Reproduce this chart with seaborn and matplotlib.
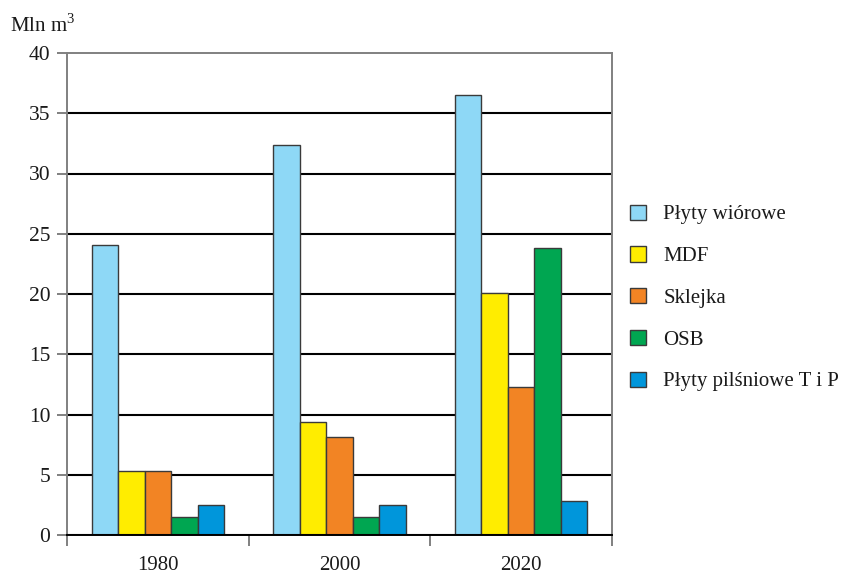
import matplotlib
matplotlib.use("Agg")
import matplotlib.pyplot as plt
import seaborn as sns
import pandas as pd
from matplotlib.patches import Patch

# Production volumes (million m3) by board type
years = ["1980", "2000", "2020"]
types = ["Płyty wiórowe", "MDF", "Sklejka", "OSB", "Płyty pilśniowe T i P"]
plyty_wiorowe = [24.1, 32.4, 36.5]
mdf = [5.3, 9.4, 20.1]
sklejka = [5.3, 8.1, 12.3]
osb = [1.5, 1.5, 23.8]
plyty_pilsniowe = [2.5, 2.5, 2.8]
yticks = [0, 5, 10, 15, 20, 25, 30, 35, 40]

colors = ["#8ED8F6", "#FFED00", "#F28424", "#00A651", "#0096DB"]

series = [plyty_wiorowe, mdf, sklejka, osb, plyty_pilsniowe]
rows = []
for t, vals in zip(types, series):
    for y, v in zip(years, vals):
        rows.append({"rok": y, "rodzaj": t, "wartosc": v})
df = pd.DataFrame(rows)

sns.set_theme(style="white")
plt.rcParams["font.family"] = ["Liberation Serif", "DejaVu Serif"]
plt.rcParams["mathtext.fontset"] = "custom"
plt.rcParams["mathtext.rm"] = "Liberation Serif"

fig = plt.figure(figsize=(8.44, 5.75), dpi=100)
ax = fig.add_axes([67 / 844, 1 - 535 / 575, (612 - 67) / 844, (535 - 53) / 575])

sns.barplot(data=df, x="rok", y="wartosc", hue="rodzaj", hue_order=types,
            order=years, palette=colors, saturation=1, width=0.73, gap=0,
            edgecolor="#3a3a3a", linewidth=1.0, legend=False, ax=ax,
            zorder=3)

ax.set_xlim(-0.5, 2.5)
ax.set_ylim(0, 40)
ax.set_yticks(yticks)
ax.set_yticklabels([str(v) for v in yticks])
ax.set_xlabel("")
ax.set_ylabel("")

# horizontal grid lines
for v in yticks[1:-1]:
    ax.axhline(v, color="black", lw=1.5, zorder=1)
ax.axhline(0, color="black", lw=1.5, zorder=4)

for side in ["left", "right", "top", "bottom"]:
    ax.spines[side].set_visible(True)
    ax.spines[side].set_color("#808080")
    ax.spines[side].set_linewidth(1.4)
ax.spines["bottom"].set_color("black")

ax.tick_params(axis="y", which="major", length=7, width=1.4, color="#808080",
               direction="out", left=True, pad=5, labelsize=15.5,
               labelcolor="#1a1a1a")
ax.set_xticks([0, 1, 2])
ax.set_xticks([-0.5, 0.5, 1.5, 2.5], minor=True)
ax.tick_params(axis="x", which="major", length=0, pad=15, labelsize=15,
               labelcolor="#1a1a1a")
ax.tick_params(axis="x", which="minor", length=8, width=1.4, color="#808080",
               direction="out", bottom=True)

fig.text(10 / 844, 1 - 32 / 575, r"Mln m$^{\mathregular{3}}$", fontsize=15,
         va="baseline", ha="left", color="#1a1a1a")

handles = [Patch(facecolor=c, edgecolor="#3a3a3a", linewidth=1.0) for c in colors]
fig.legend(handles, types, loc="center left",
           bbox_to_anchor=(630 / 844, 1 - 298 / 575), frameon=False,
           fontsize=15, handlelength=0.75, handleheight=0.75,
           handletextpad=0.85, labelspacing=1.05, borderpad=0,
           borderaxespad=0, labelcolor="#1a1a1a")

fig.savefig("out.png", dpi=100)
